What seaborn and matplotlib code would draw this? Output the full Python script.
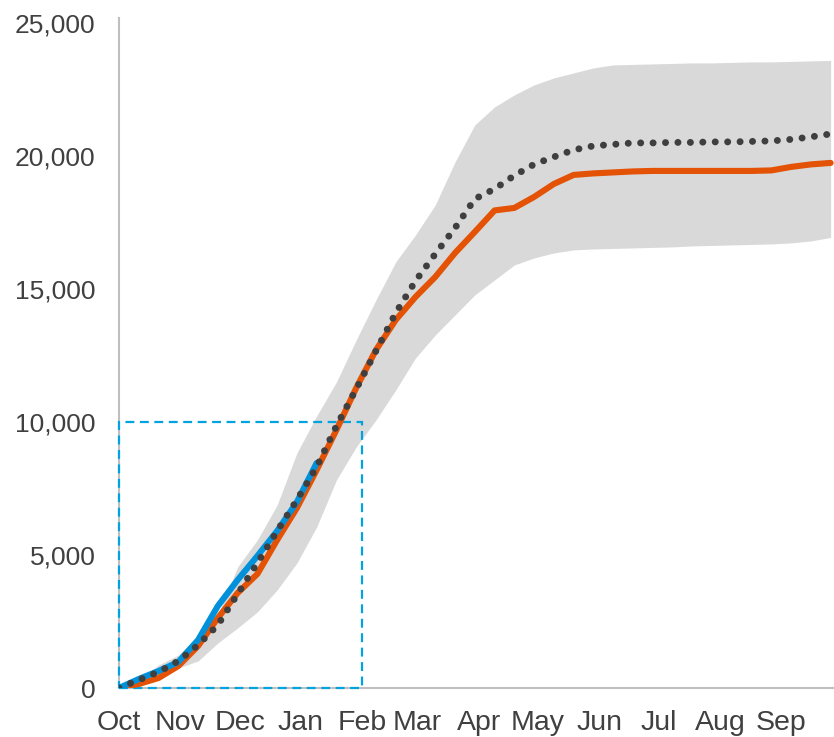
import matplotlib
matplotlib.use("Agg")
import matplotlib.pyplot as plt
from matplotlib import font_manager
from matplotlib.patches import Rectangle
import seaborn as sns
import pandas as pd
import numpy as np

# ---- data (days since 1 Oct) ----
days = [0, 10, 20, 30, 40, 50, 60, 70, 80, 90, 100, 110, 120, 130, 140, 150, 160,
        170, 180, 190, 200, 210, 220, 230, 240, 250, 260, 270, 280, 290, 300, 310,
        320, 330, 340, 350, 360]

range_max = [0, 301, 865, 1241, 1955, 2745, 4550, 5565, 6881, 8836, 10227, 11506,
             13085, 14589, 16018, 17033, 18161, 19778, 21169, 21846, 22297, 22673,
             22936, 23124, 23312, 23425, 23443, 23462, 23480, 23500, 23500, 23518,
             23538, 23538, 23556, 23575, 23594]

range_min = [0, 75, 414, 752, 1015, 1692, 2256, 2858, 3685, 4700, 6054, 7821, 9062,
             10077, 11205, 12408, 13273, 14025, 14777, 15341, 15905, 16168, 16356,
             16469, 16506, 16525, 16544, 16563, 16582, 16619, 16638, 16657, 16676,
             16694, 16732, 16807, 16939]

average = [0, 301, 602, 1015, 1617, 2369, 3534, 4700, 5903, 7069, 8310, 9851, 11242,
           12671, 14100, 15303, 16318, 17296, 18386, 18762, 19266, 19688, 19966,
           20229, 20379, 20436, 20492, 20492, 20511, 20511, 20530, 20530, 20548,
           20567, 20624, 20718, 20830]

last_year = [0, 150, 376, 827, 1579, 2632, 3572, 4286, 5565, 6768, 8197, 9701, 11280,
             12709, 13837, 14702, 15454, 16356, 17146, 17954, 18048, 18462, 18950,
             19289, 19346, 19383, 19420, 19439, 19439, 19439, 19439, 19439, 19439,
             19458, 19590, 19684, 19740]

current_days = [0, 10, 20, 30, 40, 50, 60, 70, 80, 90, 100]
current_year = [0, 338, 639, 978, 1805, 3083, 4061, 4963, 5903, 6994, 8460]

month_labels = ["Oct", "Nov", "Dec", "Jan", "Feb", "Mar", "Apr", "May", "Jun",
                "Jul", "Aug", "Sep"]
month_starts = [0, 31, 61, 92, 123, 151, 182, 212, 243, 273, 304, 335]

y_ticks = [0, 5000, 10000, 15000, 20000, 25000]

zoom_box_days = (0, 123)
zoom_box_values = (0, 10000)

# ---- styling ----
sns.set_theme(style="white")
installed = {f.name for f in font_manager.fontManager.ttflist}
narrow = "Liberation Sans Narrow" if "Liberation Sans Narrow" in installed else "Liberation Sans"
plt.rcParams["font.family"] = ["Liberation Sans", "DejaVu Sans"]

ORANGE = "#E35205"
BLUE = "#0091DA"
DARK = "#3F3F3F"
BAND = "#D9D9D9"
AXIS = "#BFBFBF"
TEXT = "#404040"
BOX = "#00A3E0"

fig = plt.figure(figsize=(8.34, 7.37), dpi=100)
ax = fig.add_axes([119 / 834, 49 / 737, 715 / 834, 670 / 737])

df = pd.DataFrame({"day": days, "max": range_max, "min": range_min,
                   "avg": average, "last": last_year})
df_cur = pd.DataFrame({"day": current_days, "value": current_year})

ax.fill_between(df["day"], df["min"], df["max"], color=BAND, linewidth=0, zorder=1)

ax.add_patch(Rectangle((zoom_box_days[0], zoom_box_values[0]),
                       zoom_box_days[1] - zoom_box_days[0],
                       zoom_box_values[1] - zoom_box_values[0],
                       fill=False, edgecolor=BOX, linewidth=1.6,
                       linestyle=(0, (4, 2.5)), zorder=2.7, clip_on=False))

sns.lineplot(data=df, x="day", y="last", ax=ax, color=ORANGE, linewidth=4.4,
             solid_capstyle="round", solid_joinstyle="round", zorder=3)
sns.lineplot(data=df_cur, x="day", y="value", ax=ax, color=BLUE, linewidth=4.4,
             solid_capstyle="round", solid_joinstyle="round", zorder=4)
sns.lineplot(data=df, x="day", y="avg", ax=ax, color=DARK, linewidth=5.0,
             linestyle=(0, (0.01, 1.78)), dash_capstyle="round", zorder=5)

ax.set_xlim(0, 361.7)
ax.set_ylim(0, 25188)
ax.set_xticks(month_starts)
ax.set_xticklabels(month_labels, fontsize=20.5, color=TEXT, family=[narrow, "DejaVu Sans"])
ax.set_yticks(y_ticks)
ax.set_yticklabels([f"{v:,}" for v in y_ticks], fontsize=19, color=TEXT)
ax.tick_params(axis="x", length=0, pad=16)
ax.tick_params(axis="y", length=0, pad=17)
ax.set_xlabel("")
ax.set_ylabel("")

for side in ["top", "right"]:
    ax.spines[side].set_visible(False)
for side in ["left", "bottom"]:
    ax.spines[side].set_color(AXIS)
    ax.spines[side].set_linewidth(1.5)
ax.grid(False)

fig.savefig("out.png", dpi=100)
